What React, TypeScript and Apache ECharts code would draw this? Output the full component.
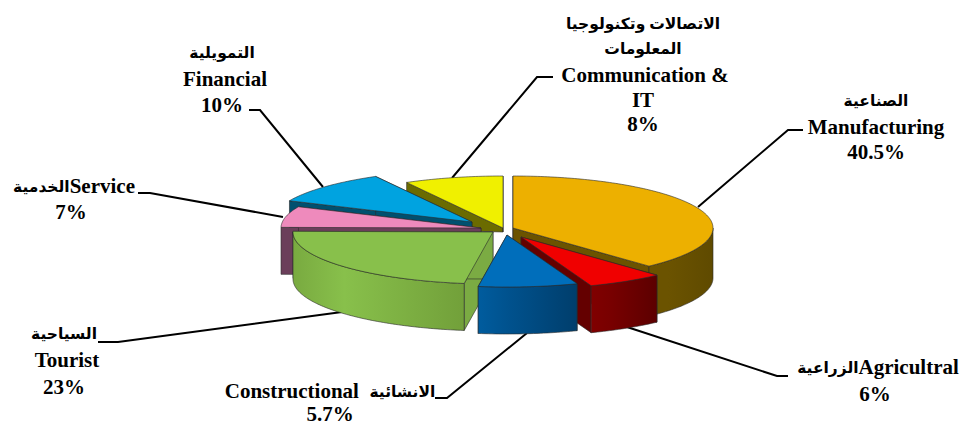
import React, { useEffect, useRef } from "react";
import * as echarts from "echarts";

const categoriesEn = ["Manufacturing", "Agricultral", "Constructional", "Tourist", "Service", "Financial", "Communication &"];
const categoriesAr = ["الصناعية", "الزراعية", "الانشائية", "السياحية", "الخدمية", "التمويلية", "الاتصالات وتكنولوجيا"];
const labelPercents = [40.5, 6, 5.7, 23, 7, 10, 8];
// Drawn share of the pie.
const pieShares = [38.1, 6.2, 8.0, 22.9, 6.5, 10.3, 8.0];

const drawOrder = [6, 5, 4, 3, 0, 1, 2];

const sliceLayout = [
  { cx: 513, cy: 228, depth: 50, limit: 999 },
  { cx: 521, cy: 237, depth: 47, limit: 999 },
  { cx: 507, cy: 235, depth: 47, limit: 999 },
  { cx: 493, cy: 232, depth: 47, limit: 999 },
  { cx: 481, cy: 228, depth: 47, limit: 999 },
  { cx: 472, cy: 222, depth: 47, limit: 999 },
  { cx: 503, cy: 228, depth: 47, limit: 232 },
];
const RX = 200;
const RY = 52;

const sliceColors = [
  { top: "#EDB000", side: "#6B5300", wall: ["#6B5300", "#6B5300", "#5F4A00"] },
  { top: "#F00000", side: "#640000", wall: ["#800000", "#780000", "#5C0000"] },
  { top: "#006EBB", side: "#00497D", wall: ["#005C9E", "#00528E", "#003E6C"] },
  { top: "#88C04B", side: "#7BAB43", wall: ["#79AA40", "#88C04B", "#72A03A"] },
  { top: "#EE8ABC", side: "#6B3E5A", wall: ["#6B3E5A", "#6B3E5A", "#6B3E5A"] },
  { top: "#00A3E0", side: "#00506F", wall: ["#00506F", "#00506F", "#00506F"] },
  { top: "#F0F000", side: "#6B6B00", wall: ["#6B6B00", "#6B6B00", "#6B6B00"] },
];

const OUTLINE = "#2a2a2a";
const SERIF = '"Liberation Serif", "DejaVu Sans", serif';
const FONT_EN = `bold 21px ${SERIF}`;
const FONT_AR = `bold 15.5px ${SERIF}`;

type Line = { t: string; x: number; y: number; ar?: boolean };

const labelLines: Line[] = [
  { t: categoriesAr[6], x: 643, y: 23, ar: true },
  { t: "المعلومات", x: 643, y: 48, ar: true },
  { t: categoriesEn[6], x: 645, y: 75 },
  { t: "IT", x: 643, y: 100 },
  { t: labelPercents[6] + "%", x: 643, y: 124 },
  { t: categoriesAr[0], x: 876, y: 100, ar: true },
  { t: categoriesEn[0], x: 876, y: 127 },
  { t: labelPercents[0] + "%", x: 876, y: 152 },
  { t: categoriesAr[5], x: 222, y: 52, ar: true },
  { t: categoriesEn[5], x: 225, y: 79 },
  { t: labelPercents[5] + "%", x: 222, y: 105 },
  { t: labelPercents[4] + "%", x: 71, y: 212 },
  { t: labelPercents[1] + "%", x: 875, y: 394 },
  { t: labelPercents[2] + "%", x: 330, y: 414 },
  { t: categoriesAr[3], x: 64, y: 333, ar: true },
  { t: categoriesEn[3], x: 67, y: 360 },
  { t: labelPercents[3] + "%", x: 64, y: 387 },
];

const mixedLines = [
  { text: `{ar|${categoriesAr[4]}}{en|${categoriesEn[4]}}`, x: 74, y: 186 },
  { text: `{ar|${categoriesAr[1]}}{en|${categoriesEn[1]}}`, x: 878, y: 367 },
  { text: `{en|${categoriesEn[2]}}{en|  }{ar|${categoriesAr[2]}}`, x: 330, y: 391 },
];

const leaders = [
  [[803, 130], [788, 130], [698, 207]],
  [[553, 77], [537, 77], [452, 178]],
  [[249, 110], [260, 110], [323, 187]],
  [[138, 193], [150, 193], [283, 217]],
  [[98, 342], [118, 342], [342, 312]],
  [[435, 398], [447, 398], [527, 333]],
  [[788, 376], [777, 376], [627, 327]],
];

const richStyles = {
  en: { font: FONT_EN, fill: "#000" },
  ar: { font: FONT_AR, fill: "#000" },
};

function pt(cx: number, cy: number, deg: number): [number, number] {
  const a = (deg * Math.PI) / 180;
  return [cx + RX * Math.sin(a), cy - RY * Math.cos(a)];
}

function arcPts(cx: number, cy: number, from: number, to: number) {
  const out: [number, number][] = [];
  const steps = Math.max(2, Math.ceil(to - from));
  for (let i = 0; i <= steps; i++) out.push(pt(cx, cy, from + ((to - from) * i) / steps));
  return out;
}

function renderSlice(_: any, api: any) {
  const idx = api.value(0);
  const total = pieShares.reduce((a, b) => a + b, 0);
  const before = pieShares.slice(0, idx).reduce((a, b) => a + b, 0);
  const from = (before / total) * 360;
  const to = ((before + api.value(1)) / total) * 360;
  const { cx, cy, depth, limit } = sliceLayout[idx];
  const col = sliceColors[idx];
  const children: any[] = [];
  const down = (p: [number, number]): [number, number] => [p[0], Math.min(p[1] + depth, limit)];
  const sideStyle = { fill: col.side, stroke: OUTLINE, lineWidth: 0.6 };
  const apex: [number, number] = [cx, cy];

  [from, to].forEach((ang) => {
    const c = pt(cx, cy, ang);
    children.push({
      type: "polygon",
      shape: { points: [apex, c, down(c), down(apex)] },
      style: sideStyle,
    });
  });

  const wf = Math.max(from, 90);
  const wt = Math.min(to, 270);
  if (wt > wf) {
    const topEdge = arcPts(cx, cy, wf, wt);
    const bottom = topEdge.map(down).reverse();
    children.push({
      type: "polygon",
      shape: { points: [...topEdge, ...bottom] },
      style: {
        fill: {
          type: "linear", x: 0, y: 0, x2: 1, y2: 0,
          colorStops: [
            { offset: 0, color: col.wall[0] },
            { offset: 0.3, color: col.wall[1] },
            { offset: 1, color: col.wall[2] },
          ],
        },
        stroke: OUTLINE,
        lineWidth: 0.6,
      },
    });
  }

  children.push({
    type: "polygon",
    shape: { points: [apex, ...arcPts(cx, cy, from, to)] },
    style: { fill: col.top, stroke: OUTLINE, lineWidth: 0.6 },
  });
  return { type: "group", children };
}

function renderLeader(_: any, api: any) {
  return {
    type: "polyline",
    shape: { points: leaders[api.value(0)] },
    style: { fill: "none", stroke: "#000", lineWidth: 2 },
  };
}

export default function App() {
  const ref = useRef<HTMLDivElement>(null);
  useEffect(() => {
    document.body.style.margin = "0";
    const chart = echarts.init(ref.current!, undefined, { renderer: "svg" });
    const graphics: any[] = [
      ...labelLines.map((l) => ({
        type: "text",
        x: l.x,
        y: l.y,
        style: {
          text: l.t,
          align: "center",
          verticalAlign: "middle",
          font: l.ar ? FONT_AR : FONT_EN,
          fill: "#000",
        },
      })),
      ...mixedLines.map((l) => ({
        type: "text",
        x: l.x,
        y: l.y,
        style: {
          text: l.text,
          rich: richStyles,
          align: "center",
          verticalAlign: "middle",
          font: FONT_EN,
          fill: "#000",
        },
      })),
    ];
    chart.setOption({
      animation: false,
      backgroundColor: "#fff",
      series: [
        {
          type: "custom",
          coordinateSystem: "none",
          silent: true,
          z: 1,
          data: leaders.map((_, i) => [i]),
          renderItem: renderLeader,
        },
        {
          type: "custom",
          coordinateSystem: "none",
          silent: true,
          z: 2,
          data: drawOrder.map((i) => [i, pieShares[i]]),
          renderItem: renderSlice,
        },
      ],
      graphic: { elements: graphics },
    });
    return () => chart.dispose();
  }, []);
  return <div ref={ref} style={{ width: 960, height: 426 }} />;
}
